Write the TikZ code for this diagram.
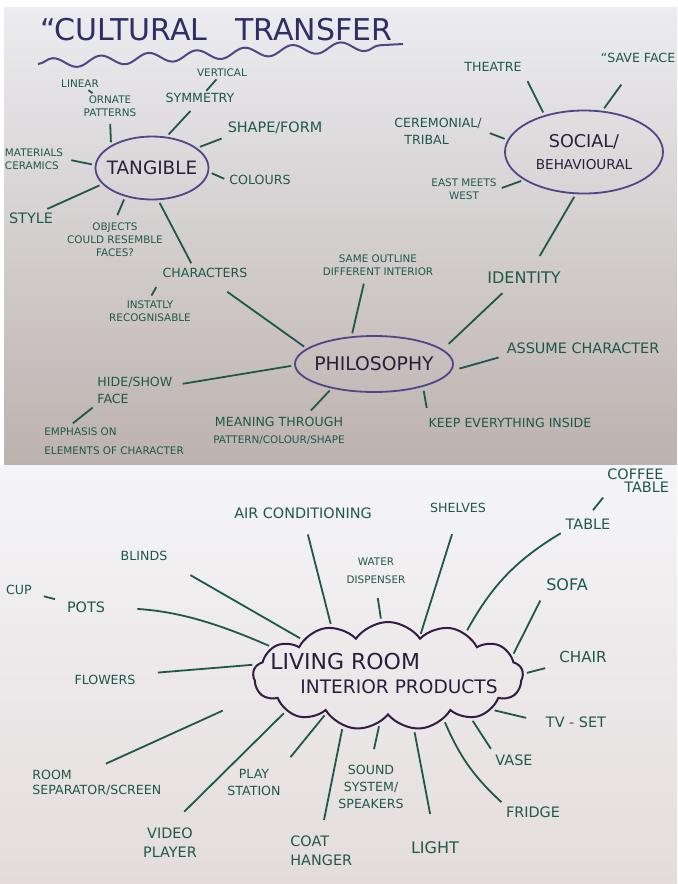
\documentclass[tikz,border=0pt]{standalone}
\usepackage{fontspec}
\setmainfont{DejaVu Sans}
\usetikzlibrary{shapes.geometric,shapes.symbols,decorations.pathmorphing}
\definecolor{myteal}{RGB}{30,88,74}
\definecolor{mynavy}{RGB}{80,70,135}
\definecolor{mytitle}{RGB}{48,44,100}
\definecolor{myink}{RGB}{38,32,60}
\definecolor{mypurple}{RGB}{50,28,70}

\begin{document}
\begin{tikzpicture}[x=0.5pt, y=-0.5pt,
        lbl/.style={text=myteal, align=center, inner sep=1pt, font=\fontsize{6.3}{8.5}\selectfont},
        lbls/.style={lbl, font=\fontsize{5.2}{6.5}\selectfont},
        lbll/.style={lbl, font=\fontsize{7.2}{9.5}\selectfont},
        hub/.style={ellipse, draw=mynavy, line width=0.9pt, inner sep=0pt},
        hubtext/.style={text=myink, align=center},
        conn/.style={draw=myteal, line width=0.9pt, shorten <=1.5pt, shorten >=1.5pt}]

            \useasboundingbox (0,0) rectangle (677,884);
            \fill[white] (0,0) rectangle (677,884);
            \shade[top color={rgb,255:red,236;green,236;blue,240}, middle color={rgb,255:red,226;green,224;blue,227}, bottom color={rgb,255:red,188;green,178;blue,174}] (4,7) rectangle (677,464);
            \shade[top color={rgb,255:red,245;green,245;blue,247}, bottom color={rgb,255:red,228;green,220;blue,220}] (0,465) rectangle (677,884);

            \node[anchor=west, text=mytitle, inner sep=0pt, font=\fontsize{15}{18}\selectfont] (Title) at (40,30) {“CULTURAL\hspace{14pt}TRANSFER};
            \draw[mynavy, line width=1pt, decorate, decoration={snake, segment length=24pt, amplitude=2.5pt}] (38,64) -- (403,44);

            \node[hub, minimum width=56.5pt, minimum height=31.5pt, label={[hubtext, font=\fontsize{9.2}{10}\selectfont]center:TANGIBLE}] (Tangible) at (152,168) {};
            \node[hub, minimum width=79pt, minimum height=41.5pt, label={[hubtext]center:{\fontsize{8.8}{10}\selectfont SOCIAL/}\\[-1pt]{\fontsize{6.8}{8}\selectfont BEHAVIOURAL}}] (Social) at (584,152) {};
            \node[hub, minimum width=79pt, minimum height=28pt, label={[hubtext, font=\fontsize{9.4}{10}\selectfont]center:PHILOSOPHY}] (Philosophy) at (374,364) {};

            \node[lbls] (Linear) at (80,84) {LINEAR};
            \node[lbls] (Ornate) at (110,106) {ORNATE\\PATTERNS};
            \node[lbls] (Vertical) at (222,73) {VERTICAL};
            \node[lbl] (Symmetry) at (200,98) {SYMMETRY};
            \node[lbll] (Shape) at (275,128) {SHAPE/FORM};
            \node[lbls, align=left] (Materials) at (34,159) {MATERIALS\\CERAMICS};
            \node[lbl] (Colours) at (260,180) {COLOURS};
            \node[lbll] (Style) at (31,218) {STYLE};
            \node[lbls] (Objects) at (115,240) {OBJECTS\\COULD RESEMBLE\\FACES?};
            \node[lbl] (Characters) at (205,273) {CHARACTERS};
            \node[lbls] (Instatly) at (150,311) {INSTATLY\\RECOGNISABLE};
            \node[lbl, anchor=west, align=left] (Hide) at (95,390) {HIDE/SHOW\\FACE};
            \node[lbls, anchor=west, align=left] (Emphasis) at (42,441) {EMPHASIS ON\\[3pt]ELEMENTS OF CHARACTER};
            \node[lbl] (Meaning) at (279,431) {MEANING THROUGH\\{\fontsize{5.2}{6.5}\selectfont PATTERN/COLOUR/SHAPE}};
            \node[lbls] (Same) at (378,265) {SAME OUTLINE\\DIFFERENT INTERIOR};
            \node[lbl, font=\fontsize{8}{9}\selectfont] (Identity) at (524,278) {IDENTITY};
            \node[lbll] (Assume) at (583,348) {ASSUME CHARACTER};
            \node[lbl] (Keep) at (510,423) {KEEP EVERYTHING INSIDE};
            \node[lbl] (Theatre) at (493,67) {THEATRE};
            \node[lbl] (Save) at (638,58) {“SAVE FACE};
            \node[lbl, anchor=west, align=left] (Ceremonial) at (392,131) {CEREMONIAL/\\\hspace*{5pt}TRIBAL};
            \node[lbls] (East) at (464,189) {EAST MEETS\\WEST};

            \draw[conn, shorten >=2.5pt] (Tangible.151) -- (Ornate.south);
            \draw[conn, shorten <=0pt, shorten >=0pt] (Linear) -- (Ornate);
            \draw[conn, shorten <=0pt, shorten >=0pt] (Vertical) -- (Symmetry);
            \draw[conn, shorten >=4pt] (Tangible.65) -- (Symmetry.240);
            \draw[conn, shorten >=3pt] (Tangible.24) -- (Shape.190);
            \draw[conn, shorten >=3pt] (Tangible.177) -- (Materials.east);
            \draw[conn] (Tangible.-4) -- (Colours.west);
            \draw[conn] (Tangible.198) -- (Style.30);
            \draw[conn, shorten >=3pt] (Tangible.227) -- (Objects.north);
            \draw[conn] (Tangible.-79) -- (Characters.150);
            \draw[conn, shorten <=4pt] (Characters.south west) -- (Instatly.north);
            \draw[conn, shorten <=10pt] (Characters.-50) -- (Philosophy.167);
            \draw[conn, shorten >=4pt] (Philosophy.181) -- (Hide.7);
            \draw[conn] (Hide.south west) -- (Emphasis.160);
            \draw[conn, shorten >=3pt] (Philosophy.210) -- (Meaning.30);
            \draw[conn, shorten <=2pt, shorten >=4pt] (Philosophy.-25) -- (Keep.175);
            \draw[conn, shorten <=4pt, shorten >=3pt] (Philosophy.-5) -- (Assume.south west);
            \draw[conn, shorten <=4pt, shorten >=5pt] (Philosophy.12) -- (Identity.210);
            \draw[conn, shorten >=3pt] (Philosophy.129) -- (Same.225);
            \draw[conn, shorten >=4pt] (Social.137) -- (Theatre.south east);
            \draw[conn, shorten >=12pt] (Social.66) -- (Save.250);
            \draw[conn, shorten >=3pt] (Social.171) -- (Ceremonial.east);
            \draw[conn] (Social.205) -- (East.east);
            \draw[conn, shorten >=8pt] (Social.-101) -- (Identity.47);

            \node[cloud, cloud ignores aspect, draw=mypurple, line width=1pt, cloud puffs=13, cloud puff arc=110, minimum width=135pt, minimum height=54pt, inner sep=0pt, label={[hubtext, align=left, xshift=-2pt, yshift=1.5pt]center:{\fontsize{11}{13}\selectfont LIVING ROOM}\\\hspace*{15pt}{\fontsize{9.3}{12}\selectfont INTERIOR PRODUCTS}}] (Living) at (388,676) {};

            \node[lbll] (Airco) at (303,513) {AIR CONDITIONING};
            \node[lbl] (Shelves) at (458,508) {SHELVES};
            \node[lbll, anchor=west, align=left] (Coffee) at (605,481) {COFFEE\\[-3pt]\hspace*{8.5pt}TABLE};
            \node[lbll] (Table) at (588,524) {TABLE};
            \node[lbls] (Water) at (376,571) {WATER\\[2.5pt]DISPENSER};
            \node[lbll, font=\fontsize{8}{9}\selectfont] (Sofa) at (567,585) {SOFA};
            \node[lbll, font=\fontsize{7.6}{9}\selectfont] (Chair) at (583,657) {CHAIR};
            \node[lbll] (Tv) at (576,722) {TV - SET};
            \node[lbll] (Vase) at (514,760) {VASE};
            \node[lbll] (Fridge) at (533,812) {FRIDGE};
            \node[lbll, font=\fontsize{8}{9}\selectfont] (Light) at (435,848) {LIGHT};
            \node[lbl] (Sound) at (371,787) {SOUND\\SYSTEM/\\SPEAKERS};
            \node[lbll, anchor=west, align=left] (Coat) at (288,851) {COAT\\HANGER};
            \node[lbl] (Play) at (254,782) {PLAY\\STATION};
            \node[lbll] (Video) at (170,843) {VIDEO\\PLAYER};
            \node[lbl, anchor=west, align=left] (Room) at (30,783) {ROOM\\[-1pt]SEPARATOR/SCREEN};
            \node[lbl] (Flowers) at (105,680) {FLOWERS};
            \node[lbll] (Pots) at (86,607) {POTS};
            \node[lbl] (Cup) at (19,590) {CUP};
            \node[lbl] (Blinds) at (144,556) {BLINDS};

            \draw[conn, shorten >=12pt] (Living.157) -- (Blinds.south east);
            \draw[conn, shorten >=7pt] (Living.139) -- (Airco.-80);
            \draw[conn, shorten >=6pt] (Living.97) -- (Water.south);
            \draw[conn, shorten >=10pt] (Living.51) -- (Shelves.south);
            \draw[conn] (Living.29) to[bend left=15] (Table.south west);
            \draw[conn, shorten <=4pt] (Table.north) -- (Coffee.south west);
            \draw[conn, shorten >=4pt] (Living.9) -- (Sofa.south west);
            \draw[conn, shorten >=6pt] (Living.1) -- (Chair.south west);
            \draw[conn, shorten >=9pt] (Living.-18) -- (Tv.west);
            \draw[conn, shorten >=2pt] (Living.-27) -- (Vase.north west);
            \draw[conn] (Living.-38) to[bend right=12] (Fridge.north west);
            \draw[conn, shorten >=13pt] (Living.-64) -- (Light.north);
            \draw[conn, shorten >=7pt] (Living.-100) -- (Sound.north);
            \draw[conn, shorten >=7pt] (Living.-132) -- (Coat.north);
            \draw[conn, shorten >=6pt] (Living.-149) -- (Play.north east);
            \draw[conn, shorten >=10pt] (Living.-161) -- (Video.north);
            \draw[conn, shorten <=20pt, shorten >=5pt] (Living.188) -- (Room.north);
            \draw[conn, shorten <=2pt, shorten >=10pt] (Living.175) -- (Flowers.10);
            \draw[conn, shorten >=15pt] (Living.166) to[bend right=10] (Pots.east);
            \draw[conn, shorten <=5pt, shorten >=5pt] (Cup) -- (Pots);
        \end{tikzpicture}
\end{document}
